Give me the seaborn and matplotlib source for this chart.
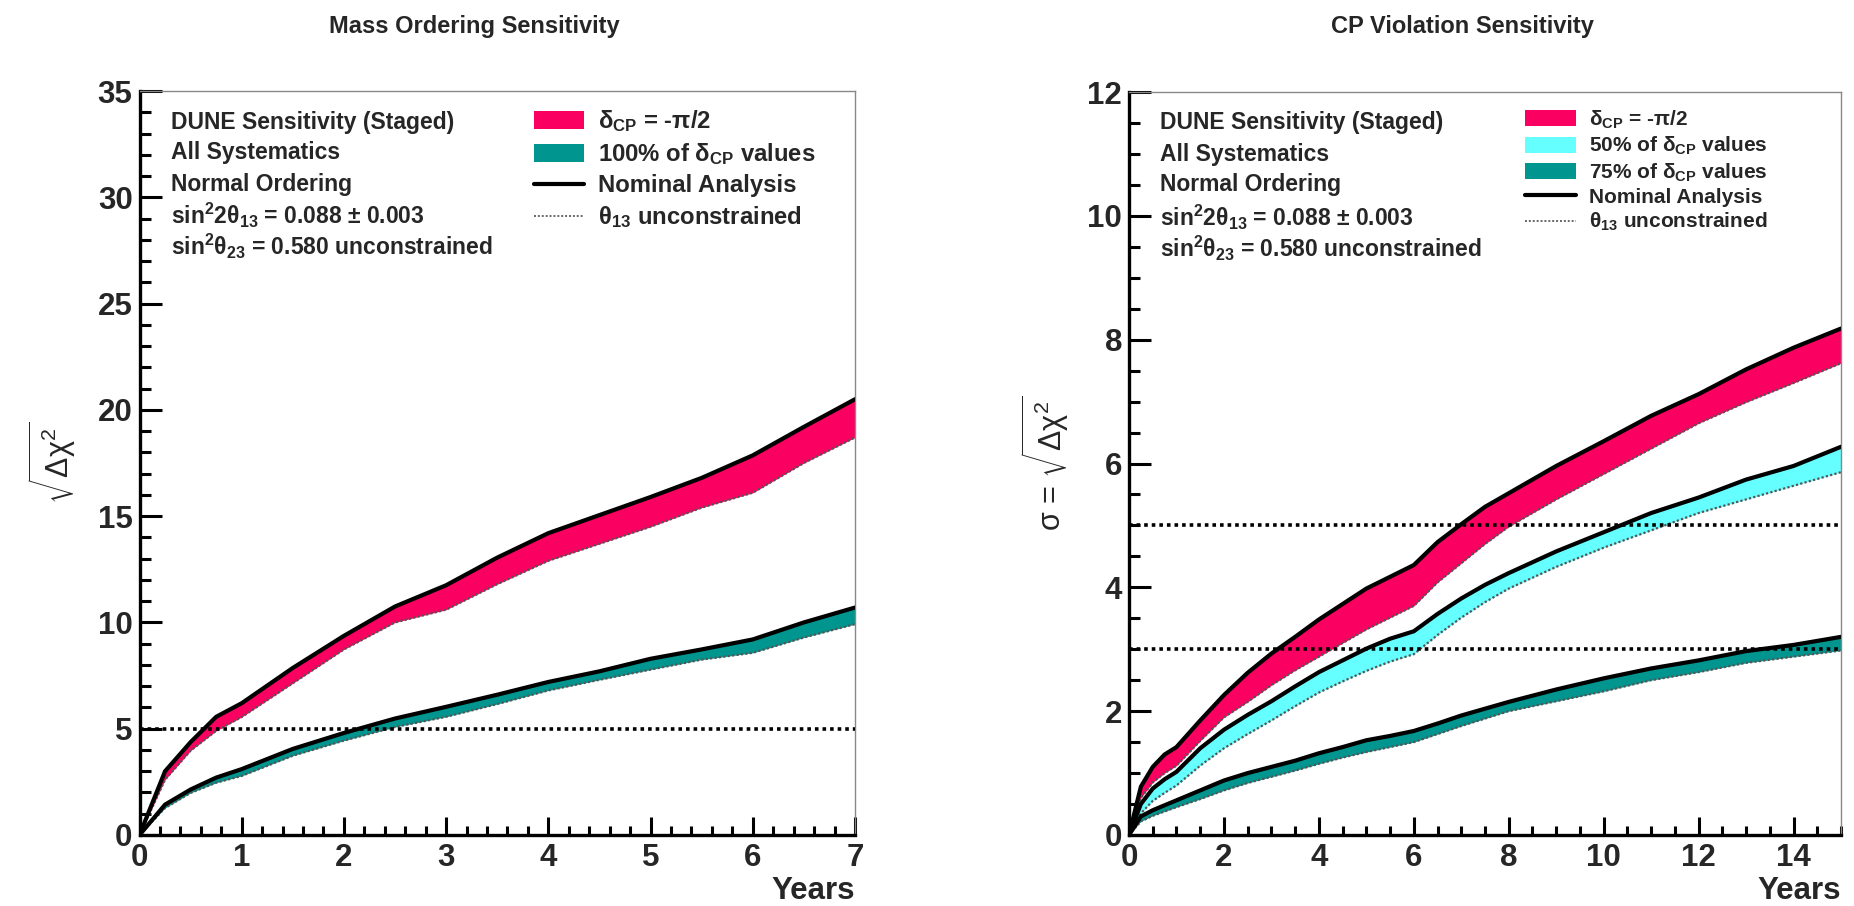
import numpy as np
import pandas as pd
import matplotlib
matplotlib.use("Agg")
import matplotlib.pyplot as plt
import seaborn as sns
from matplotlib.patches import Patch
from matplotlib.lines import Line2D
from matplotlib.ticker import MultipleLocator

# ---------------- data ----------------
mo_years = [0, 0.25, 0.5, 0.75, 1, 1.5, 2, 2.5, 3, 3.5, 4, 4.5, 5, 5.5, 6, 6.5, 7]
mo_pink_nominal = [0, 3.0, 4.37, 5.56, 6.2, 7.86, 9.37, 10.75, 11.75, 13.05, 14.2, 15.05, 15.9, 16.8, 17.86, 19.2, 20.5]
mo_pink_unconstr = [0, 2.6, 3.97, 4.9, 5.55, 7.14, 8.73, 10.0, 10.6, 11.8, 12.9, 13.7, 14.5, 15.4, 16.1, 17.5, 18.7]
mo_teal_nominal = [0, 1.43, 2.14, 2.7, 3.1, 4.05, 4.8, 5.48, 6.03, 6.6, 7.2, 7.7, 8.29, 8.73, 9.2, 10.0, 10.7]
mo_teal_unconstr = [0, 1.27, 1.98, 2.46, 2.78, 3.73, 4.44, 5.08, 5.56, 6.16, 6.8, 7.3, 7.78, 8.25, 8.57, 9.29, 9.92]

cp_years = [0, 0.25, 0.5, 0.75, 1, 1.5, 2, 2.5, 3, 3.5, 4, 4.5, 5, 5.5, 6, 6.5, 7, 7.5, 8, 9, 10, 11, 12, 13, 14, 15]
cp_pink_nominal = [0, 0.78, 1.1, 1.3, 1.42, 1.85, 2.26, 2.62, 2.93, 3.2, 3.48, 3.73, 3.98, 4.17, 4.36, 4.73, 5.02, 5.3, 5.52, 5.96, 6.36, 6.77, 7.12, 7.52, 7.87, 8.18]
cp_pink_unconstr = [0, 0.6, 0.85, 1.0, 1.12, 1.52, 1.9, 2.15, 2.42, 2.66, 2.88, 3.1, 3.32, 3.51, 3.7, 4.08, 4.39, 4.7, 4.98, 5.42, 5.83, 6.24, 6.65, 6.99, 7.3, 7.62]
cp_cyan_nominal = [0, 0.5, 0.75, 0.9, 1.02, 1.4, 1.7, 1.94, 2.16, 2.4, 2.63, 2.82, 3.01, 3.17, 3.29, 3.57, 3.82, 4.04, 4.23, 4.58, 4.89, 5.2, 5.45, 5.74, 5.96, 6.27]
cp_cyan_unconstr = [0, 0.35, 0.55, 0.68, 0.8, 1.12, 1.4, 1.63, 1.85, 2.08, 2.3, 2.48, 2.65, 2.8, 2.92, 3.23, 3.51, 3.76, 3.98, 4.33, 4.64, 4.92, 5.2, 5.42, 5.64, 5.86]
cp_teal_nominal = [0, 0.3, 0.4, 0.48, 0.56, 0.72, 0.88, 1.0, 1.1, 1.2, 1.32, 1.42, 1.53, 1.6, 1.68, 1.8, 1.93, 2.04, 2.15, 2.35, 2.53, 2.69, 2.82, 2.97, 3.07, 3.2]
cp_teal_unconstr = [0, 0.22, 0.31, 0.38, 0.45, 0.58, 0.72, 0.84, 0.94, 1.04, 1.15, 1.25, 1.34, 1.42, 1.5, 1.63, 1.76, 1.88, 2.0, 2.16, 2.32, 2.5, 2.63, 2.78, 2.88, 2.98]

mo_thresholds = [5]
cp_thresholds = [3, 5]

info_lines = [
    "DUNE Sensitivity (Staged)",
    "All Systematics",
    "Normal Ordering",
    "sin$^{2}$2θ$_{13}$ = 0.088 ± 0.003",
    "sin$^{2}$θ$_{23}$ = 0.580 unconstrained",
]

PINK = "#FA0060"
CYAN = "#66FFFF"
TEAL = "#00968F"

# ---------------- style ----------------
sns.set_theme(style="white")
plt.rcParams["font.family"] = ["Liberation Sans", "DejaVu Sans"]
plt.rcParams["font.weight"] = "bold"
plt.rcParams["mathtext.fontset"] = "custom"
plt.rcParams["mathtext.rm"] = "Liberation Sans"
plt.rcParams["mathtext.it"] = "Liberation Sans:italic"
plt.rcParams["mathtext.bf"] = "Liberation Sans:bold"
plt.rcParams["mathtext.default"] = "regular"

fig = plt.figure(figsize=(18.54, 9.06), dpi=100)
axL = fig.add_axes([139.5 / 1854, 71 / 906, 715.5 / 1854, 744 / 906])
axR = fig.add_axes([1129 / 1854, 71 / 906, 712 / 1854, 743 / 906])


def long_df(years, nominal, unconstr, name):
    return pd.DataFrame({
        "Years": list(years) * 2,
        "value": list(nominal) + list(unconstr),
        "kind": ["nominal"] * len(years) + ["unconstr"] * len(years),
        "band": name,
    })


def draw_band(ax, years, nominal, unconstr, color, name):
    ax.fill_between(years, unconstr, nominal, color=color, lw=0, zorder=2)
    df = long_df(years, nominal, unconstr, name)
    sns.lineplot(data=df[df.kind == "nominal"], x="Years", y="value", ax=ax,
                 color="black", lw=3.0, zorder=4, legend=False, estimator=None,
                 sort=False)
    sns.lineplot(data=df[df.kind == "unconstr"], x="Years", y="value", ax=ax,
                 color="#555555", lw=1.6, ls=(0, (1, 1)), zorder=3, legend=False,
                 estimator=None, sort=False)


def style_axes(ax, xmax, ymax, xmaj, xmin, ymaj, ymin):
    ax.set_xlim(0, xmax)
    ax.set_ylim(0, ymax)
    ax.xaxis.set_major_locator(MultipleLocator(xmaj))
    ax.xaxis.set_minor_locator(MultipleLocator(xmin))
    ax.yaxis.set_major_locator(MultipleLocator(ymaj))
    ax.yaxis.set_minor_locator(MultipleLocator(ymin))
    ax.tick_params(axis="both", which="both", direction="in", color="black",
                   bottom=True, left=True, top=False, right=False,
                   labelsize=22.5, width=2.2)
    ax.tick_params(axis="y", which="major", length=16, pad=5)
    ax.tick_params(axis="y", which="minor", length=8)
    ax.tick_params(axis="x", which="major", length=13, pad=6)
    ax.tick_params(axis="x", which="minor", length=6.5)
    for lab in ax.get_xticklabels() + ax.get_yticklabels():
        lab.set_fontweight("bold")
    for s in ["left", "bottom"]:
        ax.spines[s].set_color("black")
        ax.spines[s].set_linewidth(2.4)
    for s in ["top", "right"]:
        ax.spines[s].set_color("#888888")
        ax.spines[s].set_linewidth(1.0)
    ax.set_xlabel("Years", loc="right", fontsize=22.5, fontweight="bold", labelpad=2)


# ---------------- left panel ----------------
draw_band(axL, mo_years, mo_pink_nominal, mo_pink_unconstr, PINK, "pink")
draw_band(axL, mo_years, mo_teal_nominal, mo_teal_unconstr, TEAL, "teal")
for t in mo_thresholds:
    axL.axhline(t, color="black", lw=2.6, ls=(0, (1, 1.1)), zorder=6)
style_axes(axL, 7, 35, 1, 0.2, 5, 1)
axL.set_ylabel(r"$\sqrt{\Delta\chi^{2}}$", fontsize=22, fontweight="normal", labelpad=14)

# ---------------- right panel ----------------
draw_band(axR, cp_years, cp_pink_nominal, cp_pink_unconstr, PINK, "pink")
draw_band(axR, cp_years, cp_cyan_nominal, cp_cyan_unconstr, CYAN, "cyan")
draw_band(axR, cp_years, cp_teal_nominal, cp_teal_unconstr, TEAL, "teal")
for t in cp_thresholds:
    axR.axhline(t, color="black", lw=2.6, ls=(0, (1, 1.1)), zorder=6)
style_axes(axR, 15, 12, 2, 0.5, 2, 0.5)
axR.set_ylabel(r"σ = $\sqrt{\Delta\chi^{2}}$", fontsize=22, fontweight="normal", labelpad=12)

# ---------------- titles ----------------
fig.text(474 / 1854, 1 - 27 / 906, "Mass Ordering Sensitivity", ha="center", va="center",
         fontsize=17, fontweight="bold")
fig.text(1462 / 1854, 1 - 27 / 906, "CP Violation Sensitivity", ha="center", va="center",
         fontsize=17, fontweight="bold")

# ---------------- info text ----------------
for x0, ys in [(171, [122, 153, 184, 215, 246]), (1160, [123, 154, 185, 217, 248])]:
    for line, yp in zip(info_lines, ys):
        fig.text(x0 / 1854, 1 - yp / 906, line, ha="left", va="center",
                 fontsize=16.5, fontweight="bold")

# ---------------- legends ----------------
dotted = Line2D([], [], color="#666666", lw=1.4, ls=(0, (1, 1)))
solid = Line2D([], [], color="black", lw=3)
hL = [Patch(facecolor=PINK, edgecolor="none"), Patch(facecolor=TEAL, edgecolor="none"), solid, dotted]
lL = ["δ$_{CP}$ = -π/2", "100% of δ$_{CP}$ values", "Nominal Analysis", "θ$_{13}$ unconstrained"]
legL = axL.legend(hL, lL, loc="upper left", bbox_to_anchor=((534 - 139.5) / 715.5, 0.977),
                  frameon=False, fontsize=17.2, handlelength=2.1, handleheight=0.8,
                  handletextpad=0.6, labelspacing=0.3, borderpad=0, borderaxespad=0)
for t in legL.get_texts():
    t.set_fontweight("bold")

hR = [Patch(facecolor=PINK, edgecolor="none"), Patch(facecolor=CYAN, edgecolor="none"),
      Patch(facecolor=TEAL, edgecolor="none"), solid, dotted]
lR = ["δ$_{CP}$ = -π/2", "50% of δ$_{CP}$ values", "75% of δ$_{CP}$ values",
      "Nominal Analysis", "θ$_{13}$ unconstrained"]
legR = axR.legend(hR, lR, loc="upper left", bbox_to_anchor=((1525 - 1129) / 712, 0.978),
                  frameon=False, fontsize=15, handlelength=2.45, handleheight=0.8,
                  handletextpad=0.6, labelspacing=0.2, borderpad=0, borderaxespad=0)
for t in legR.get_texts():
    t.set_fontweight("bold")

fig.savefig("out.png", dpi=100)
